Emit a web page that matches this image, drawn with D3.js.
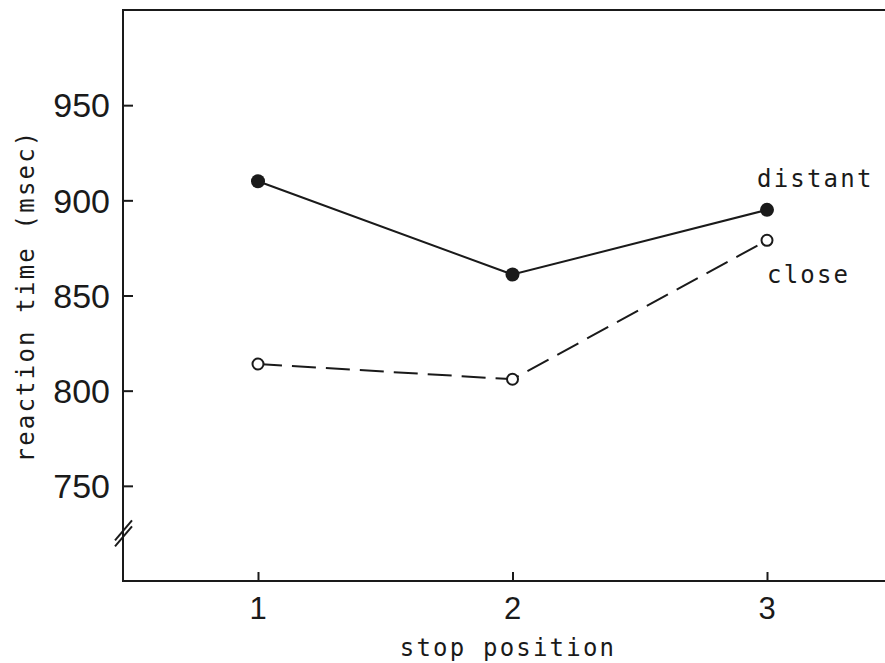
<!DOCTYPE html>
<html>
<head>
<meta charset="utf-8">
<script src="https://cdn.jsdelivr.net/npm/d3@7"></script>
<style>
  body { margin: 0; background: #fff; }
  .tickLabel { font-family: "Liberation Sans", Arial, sans-serif; fill: #1a1a1a; }
  .typeText { font-family: "DejaVu Sans Mono", monospace; font-size: 24px; letter-spacing: 2.2px; fill: #1a1a1a; }
</style>
</head>
<body>
<div id="chart"></div>
<script>
// chart data
var positions = [1, 2, 3];
var distantRT = [910, 861, 895];
var closeRT = [814, 806, 879];
var yTicks = [750, 800, 850, 900, 950];
var xTicks = [1, 2, 3];

// svg container
var svgWidth = 885;
var svgHeight = 663;

var margin = {
  top: 10,
  right: 0,
  bottom: 82,
  left: 123
};

var width = svgWidth - margin.left - margin.right;
var height = svgHeight - margin.top - margin.bottom;

var ink = "#1a1a1a";

var svg = d3.select("#chart")
  .append("svg")
  .attr("width", svgWidth)
  .attr("height", svgHeight);

var chartGroup = svg.append("g")
  .attr("transform", `translate(${margin.left}, ${margin.top})`);

// scales
var xLinearScale = d3.scaleLinear()
  .domain([1, 3])
  .range([135, 644]);

var yLinearScale = d3.scaleLinear()
  .domain([700, 1000])
  .range([height, 0]);

// frame: left, top and bottom lines (right side runs off the picture)
chartGroup.append("path")
  .attr("d", `M${width},0 H0 V${height} H${width}`)
  .attr("fill", "none")
  .attr("stroke", ink)
  .attr("stroke-width", 2);

// y ticks, pointing inward
var leftAxis = d3.axisRight(yLinearScale)
  .tickValues(yTicks)
  .tickSize(10)
  .tickFormat("");
var yAxis = chartGroup.append("g").call(leftAxis);
yAxis.select(".domain").remove();
yAxis.selectAll("line").attr("stroke", ink).attr("stroke-width", 2);

chartGroup.selectAll(".yLabel")
  .data(yTicks)
  .enter()
  .append("text")
  .attr("class", "tickLabel")
  .attr("x", -13)
  .attr("y", d => yLinearScale(d))
  .attr("dy", "0.36em")
  .attr("text-anchor", "end")
  .style("font-size", "34px")
  .text(d => d);

// x ticks, pointing up
var bottomAxis = d3.axisTop(xLinearScale)
  .tickValues(xTicks)
  .tickSize(9)
  .tickFormat("");
var xAxis = chartGroup.append("g")
  .attr("transform", `translate(0, ${height})`)
  .call(bottomAxis);
xAxis.select(".domain").remove();
xAxis.selectAll("line").attr("stroke", ink).attr("stroke-width", 2);

chartGroup.selectAll(".xLabel")
  .data(xTicks)
  .enter()
  .append("text")
  .attr("class", "tickLabel")
  .attr("x", d => xLinearScale(d))
  .attr("y", height + 38)
  .attr("text-anchor", "middle")
  .style("font-size", "31px")
  .text(d => d);

// axis break marks
var breakY = yLinearScale(725);
[-3, 3].forEach(function(off) {
  chartGroup.append("line")
    .attr("x1", -8).attr("y1", breakY + off + 10)
    .attr("x2", 9).attr("y2", breakY + off - 10)
    .attr("stroke", ink)
    .attr("stroke-width", 2);
});

// lines
var line = d3.line()
  .x((d, i) => xLinearScale(positions[i]))
  .y(d => yLinearScale(d));

chartGroup.append("path")
  .datum(distantRT)
  .attr("d", line)
  .attr("fill", "none")
  .attr("stroke", ink)
  .attr("stroke-width", 2);

chartGroup.append("path")
  .datum(closeRT)
  .attr("d", line)
  .attr("fill", "none")
  .attr("stroke", ink)
  .attr("stroke-width", 2)
  .attr("stroke-dasharray", "24,10");

// markers
chartGroup.selectAll(".distantDot")
  .data(distantRT)
  .enter()
  .append("circle")
  .attr("cx", (d, i) => xLinearScale(positions[i]))
  .attr("cy", d => yLinearScale(d))
  .attr("r", 7)
  .attr("fill", ink);

chartGroup.selectAll(".closeDot")
  .data(closeRT)
  .enter()
  .append("circle")
  .attr("cx", (d, i) => xLinearScale(positions[i]))
  .attr("cy", d => yLinearScale(d))
  .attr("r", 5.5)
  .attr("fill", "#fff")
  .attr("stroke", ink)
  .attr("stroke-width", 2);

// series labels
chartGroup.append("text")
  .attr("class", "typeText")
  .attr("x", 634)
  .attr("y", 177)
  .text("distant");

chartGroup.append("text")
  .attr("class", "typeText")
  .attr("x", 644)
  .attr("y", 273)
  .text("close");

// axis titles
svg.append("text")
  .attr("class", "typeText")
  .attr("x", 508)
  .attr("y", 656)
  .attr("text-anchor", "middle")
  .text("stop position");

svg.append("text")
  .attr("class", "typeText")
  .attr("transform", "translate(34, 296) rotate(-90)")
  .attr("text-anchor", "middle")
  .text("reaction time (msec)");
</script>
</body>
</html>
